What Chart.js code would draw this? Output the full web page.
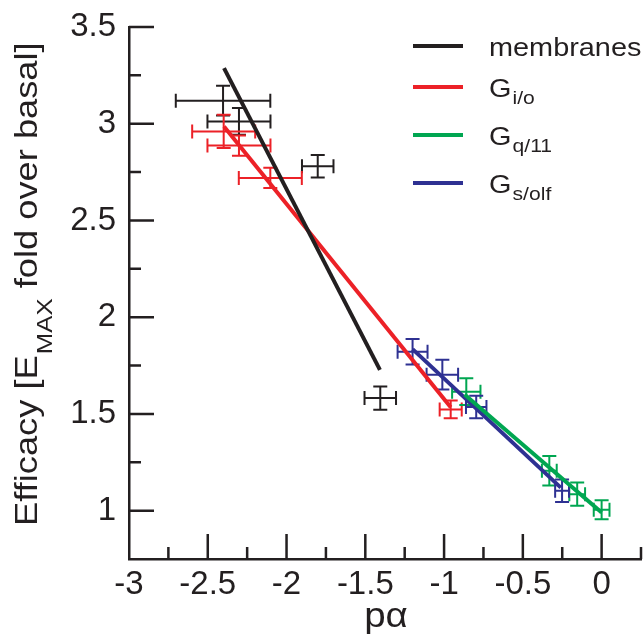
<!DOCTYPE html>
<html><head><meta charset="utf-8">
<script src="https://cdn.jsdelivr.net/npm/chart.js@4.4.1/dist/chart.umd.min.js"></script>
<style>html,body{margin:0;padding:0;background:#fff;}#wrap{width:643px;height:637px;}</style>
</head><body><div id="wrap"><canvas id="c" width="643" height="637"></canvas></div>
<script>
// ---- data ----
const xTickValues = [-3, -2.5, -2, -1.5, -1, -0.5, 0];
const yTickValues = [1, 1.5, 2, 2.5, 3, 3.5];

const membranesX    = [-2.403, -2.302, -1.802, -1.405];
const membranesY    = [3.119, 3.012, 2.780, 1.582];
const membranesXErr = [0.30, 0.20, 0.10, 0.10];
const membranesYErr = [0.077, 0.069, 0.058, 0.060];
const membranesFitX = [-2.397, -1.407];
const membranesFitY = [3.287, 1.728];

const gioX    = [-2.399, -2.302, -2.103, -0.958];
const gioY    = [2.960, 2.887, 2.720, 1.523];
const gioXErr = [0.20, 0.20, 0.20, 0.07];
const gioYErr = [0.086, 0.052, 0.052, 0.046];
const gioFitX = [-2.397, -0.958];
const gioFitY = [2.986, 1.535];

const gq11X    = [-0.859, -0.332, -0.155, 0.0];
const gq11Y    = [1.615, 1.206, 1.085, 1.005];
const gq11XErr = [0.09, 0.047, 0.05, 0.05];
const gq11YErr = [0.069, 0.076, 0.06, 0.049];
const gq11FitX = [-0.87, 0.0];
const gq11FitY = [1.60, 0.99];

const gsolfX    = [-1.200, -1.011, -0.796, -0.251];
const gsolfY    = [1.821, 1.703, 1.536, 1.103];
const gsolfXErr = [0.095, 0.10, 0.065, 0.044];
const gsolfYErr = [0.066, 0.077, 0.058, 0.058];
const gsolfFitX = [-1.200, -0.259];
const gsolfFitY = [1.835, 1.119];

const legendMain = ['membranes', 'G', 'G', 'G'];
const legendSub  = ['', 'i/o', 'q/11', 's/olf'];
const colors = ['#231f20', '#ec2127', '#00a651', '#2e3192'];

// ---- build ----
const FONT = '"Liberation Sans", Arial, Helvetica, sans-serif';
const INK = '#231f20';
const groups = [
  {x: membranesX, y: membranesY, xe: membranesXErr, ye: membranesYErr, fx: membranesFitX, fy: membranesFitY},
  {x: gioX, y: gioY, xe: gioXErr, ye: gioYErr, fx: gioFitX, fy: gioFitY},
  {x: gq11X, y: gq11Y, xe: gq11XErr, ye: gq11YErr, fx: gq11FitX, fy: gq11FitY},
  {x: gsolfX, y: gsolfY, xe: gsolfXErr, ye: gsolfYErr, fx: gsolfFitX, fy: gsolfFitY}
];
const datasets = groups.map((g, i) => ({
  label: legendMain[i] + legendSub[i],
  data: g.fx.map((xv, k) => ({x: xv, y: g.fy[k]})),
  showLine: true, borderColor: colors[i], backgroundColor: colors[i],
  borderWidth: 4, pointRadius: 0, pointHoverRadius: 0, tension: 0
}));

const near = (a, b) => Math.abs(a - b) < 1e-6;
const isIn = (arr, v) => arr.some(t => near(t, v));
const fmt = v => { const r = Math.round(v * 100) / 100; return r === 0 ? '0' : String(r); };

const CAP = 7;
const overlay = {
  id: 'overlay',
  beforeDatasetsDraw(chart) {
    const {ctx, scales: {x, y}} = chart;
    ctx.save();
    ctx.lineWidth = 2;
    ctx.lineCap = 'butt';
    groups.forEach((g, gi) => {
      ctx.strokeStyle = colors[gi];
      for (let i = 0; i < g.x.length; i++) {
        const px = x.getPixelForValue(g.x[i]), py = y.getPixelForValue(g.y[i]);
        const xl = x.getPixelForValue(g.x[i] - g.xe[i]), xr = x.getPixelForValue(g.x[i] + g.xe[i]);
        const yt = y.getPixelForValue(g.y[i] + g.ye[i]), yb = y.getPixelForValue(g.y[i] - g.ye[i]);
        ctx.beginPath();
        ctx.moveTo(xl, py); ctx.lineTo(xr, py);
        ctx.moveTo(px, yt); ctx.lineTo(px, yb);
        ctx.moveTo(xl, py - CAP); ctx.lineTo(xl, py + CAP);
        ctx.moveTo(xr, py - CAP); ctx.lineTo(xr, py + CAP);
        ctx.moveTo(px - CAP, yt); ctx.lineTo(px + CAP, yt);
        ctx.moveTo(px - CAP, yb); ctx.lineTo(px + CAP, yb);
        ctx.stroke();
      }
    });
    ctx.restore();
  },
  afterDraw(chart) {
    const {ctx, scales: {x, y}, chartArea: ca} = chart;
    ctx.save();
    // tick marks (inward)
    ctx.strokeStyle = INK; ctx.lineWidth = 2.5;
    ctx.beginPath();
    for (let v = x.min + 0.25; v <= x.max + 1e-9; v += 0.25) {
      const p = x.getPixelForValue(v);
      const len = isIn(xTickValues, v) ? 25 : 12;
      ctx.moveTo(p, ca.bottom); ctx.lineTo(p, ca.bottom - len);
    }
    for (let v = y.min + 0.25; v <= y.max + 1e-9; v += 0.25) {
      const p = y.getPixelForValue(v);
      const len = isIn(yTickValues, v) ? 25 : 12;
      ctx.moveTo(ca.left, p); ctx.lineTo(ca.left + len, p);
    }
    ctx.stroke();

    // legend
    const lx0 = 413, lx1 = 463, tx = 489;
    const ly = [46, 87, 135, 183];
    ctx.lineWidth = 4;
    ly.forEach((yy, i) => {
      ctx.strokeStyle = colors[i];
      ctx.beginPath(); ctx.moveTo(lx0, yy); ctx.lineTo(lx1, yy); ctx.stroke();
      ctx.save();
      ctx.translate(tx, yy + 10);
      ctx.scale(1.11, 1);
      ctx.textBaseline = 'alphabetic'; ctx.textAlign = 'left';
      ctx.fillStyle = INK;
      ctx.font = '26px ' + FONT;
      ctx.fillText(legendMain[i], 0, 0);
      if (legendSub[i]) {
        const w = ctx.measureText(legendMain[i]).width;
        ctx.font = '19px ' + FONT;
        ctx.fillText(legendSub[i], w + 1, 7);
      }
      ctx.restore();
    });

    // y title (rotated, with subscript)
    ctx.save();
    ctx.translate(37, 526);
    ctx.rotate(-Math.PI / 2);
    ctx.scale(1.17, 1);
    ctx.fillStyle = INK;
    ctx.textAlign = 'left'; ctx.textBaseline = 'alphabetic';
    ctx.font = '31px ' + FONT;
    const p1 = 'Efficacy [E', p3 = ' fold over basal]';
    ctx.fillText(p1, 0, 0);
    let cx = ctx.measureText(p1).width;
    ctx.font = '22px ' + FONT;
    ctx.fillText('MAX', cx + 1, 15);
    cx += ctx.measureText('MAX').width + 1;
    ctx.font = '31px ' + FONT;
    ctx.fillText(p3, cx, 0);
    ctx.restore();

    // x title
    ctx.save();
    ctx.fillStyle = INK;
    ctx.font = '35px ' + FONT;
    ctx.textAlign = 'center'; ctx.textBaseline = 'alphabetic';
    ctx.translate((ca.left + ca.right) / 2 + 1, 627);
    ctx.scale(1.1, 1);
    ctx.fillText('p\u03b1', 0, 0);
    ctx.restore();
    ctx.restore();
  }
};

const fixPad = s => { s.paddingLeft = 0; s.paddingRight = 0; s.paddingTop = 0; s.paddingBottom = 0; };

new Chart(document.getElementById('c'), {
  type: 'scatter',
  data: {datasets},
  options: {
    responsive: false, animation: false, devicePixelRatio: 1,
    layout: {padding: {top: 27, right: 2, left: 0, bottom: 0}},
    plugins: {legend: {display: false}, tooltip: {enabled: false}},
    scales: {
      x: {
        type: 'linear', min: -3, max: 0.25,
        grid: {display: false, drawTicks: false},
        border: {display: true, color: INK, width: 2.5},
        ticks: {stepSize: 0.25, autoSkip: false, maxRotation: 0, padding: 6, color: INK,
          font: {family: FONT, size: 33},
          callback: v => isIn(xTickValues, v) ? fmt(v) : ''},
        afterFit: s => { s.height = 78; fixPad(s); }
      },
      y: {
        type: 'linear', min: 0.75, max: 3.5,
        grid: {display: false, drawTicks: false},
        border: {display: true, color: INK, width: 2.5},
        ticks: {stepSize: 0.25, autoSkip: false, padding: 13, color: INK,
          font: {family: FONT, size: 33},
          callback: v => isIn(yTickValues, v) ? fmt(v) : ''},
        afterFit: s => { s.width = 129; fixPad(s); }
      }
    }
  },
  plugins: [overlay]
});
</script></body></html>
